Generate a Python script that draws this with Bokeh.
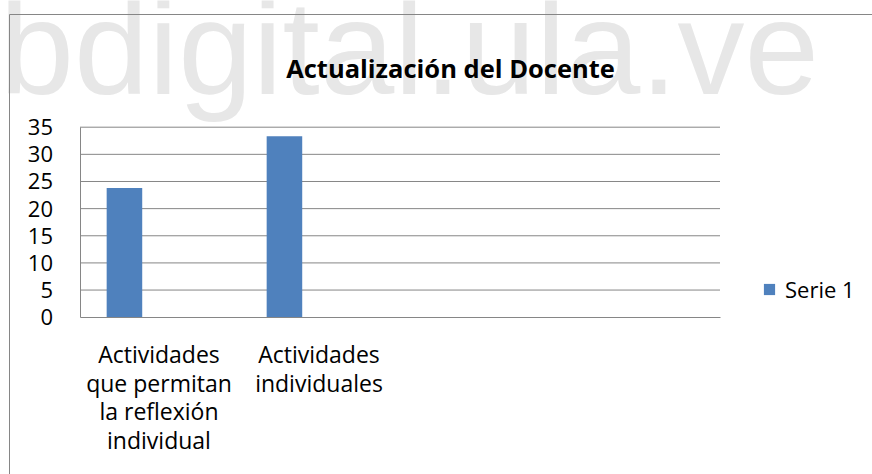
import math
from bokeh.plotting import figure
from bokeh.models import (Range1d, ColumnDataSource, LabelSet, LinearAxis,
                          BoxAnnotation, Legend, LegendItem, FixedTicker)
from bokeh.transform import dodge
from bokeh.embed import file_html
from bokeh.resources import INLINE
from bokeh.core.properties import value

# ---- data ----
categories = ["Actividades que permitan la reflexión individual",
              "Actividades individuales", "", ""]
category_lines = [["Actividades", "que permitan", "la reflexión", "individual"],
                  ["Actividades", "individuales"], [], []]
serie1 = [23.81, 33.33, None, None]
series_names = ["Serie 1"]
y_ticks = [0, 5, 10, 15, 20, 25, 30, 35]
title_text = "Actualización del Docente"
watermark_text = "bdigital.ula.ve"

# ---- styling ----
FONT = "Open Sans"
GRID = "#868686"
BLUE = "#4F81BD"
W, H = 872, 474
# pixel layout of the plot area inside the canvas
PX_L, PX_R, PX_T, PX_B = 79.5, 719.5, 126.7, 316.7
n_cat = len(categories)
y_max = y_ticks[-1]
sx = (PX_R - PX_L) / n_cat
sy = (PX_B - PX_T) / y_max

p = figure(width=W, height=H,
           x_range=Range1d(-PX_L / sx, n_cat + (W - PX_R) / sx),
           y_range=Range1d(-(H - PX_B) / sy, y_max + PX_T / sy),
           output_backend="svg", toolbar_location=None, tools="",
           x_axis_location=None, y_axis_location=None, title_location=None,
           min_border=0, min_border_left=0, min_border_right=0,
           min_border_top=0, min_border_bottom=0)
p.outline_line_color = None
p.background_fill_color = "white"
p.border_fill_color = "white"
p.xgrid.visible = False
p.ygrid.visible = False

# watermark (behind everything else)
wm_src = ColumnDataSource(dict(x=[-1], y=[H - 93], t=[watermark_text]))
p.add_layout(LabelSet(x="x", y="y", text="t", source=wm_src,
                      x_units="screen", y_units="screen",
                      text_font=value("Liberation Sans"),
                      text_font_size=value("134px"), text_color="#e7e7e7",
                      text_baseline="alphabetic", text_align="left",
                      level="underlay"))

# gridlines
grid_vals = [t for t in y_ticks if t > 0]
p.segment(x0=[0] * len(grid_vals), x1=[n_cat] * len(grid_vals),
          y0=grid_vals, y1=grid_vals, line_color=GRID, line_width=1)

# bars
bar_w = 1 / 4.5
src = ColumnDataSource(dict(xc=[i + 0.5 for i in range(n_cat)],
                            v=[math.nan if v is None else v for v in serie1]))
r = p.vbar(x=dodge("xc", -bar_w), top="v", width=bar_w,
           source=src, fill_color=BLUE, line_color=None)

# axes
yaxis = LinearAxis(fixed_location=0, bounds=(0, y_max),
                   ticker=FixedTicker(ticks=y_ticks))
yaxis.major_tick_out = 0
yaxis.major_tick_in = 0
yaxis.minor_tick_out = 0
yaxis.minor_tick_in = 0
yaxis.major_label_standoff = 27
yaxis.major_label_text_font = FONT
yaxis.major_label_text_font_size = "22px"
yaxis.major_label_text_color = "black"
yaxis.axis_line_color = GRID
p.add_layout(yaxis, "left")

xaxis = LinearAxis(fixed_location=0, bounds=(0, n_cat),
                   ticker=FixedTicker(ticks=[]))
xaxis.major_tick_out = 0
xaxis.major_tick_in = 0
xaxis.minor_tick_out = 0
xaxis.minor_tick_in = 0
xaxis.axis_line_color = GRID
p.add_layout(xaxis, "below")

# chart border
p.add_layout(BoxAnnotation(left=9, right=W + 200, top=H - 14, bottom=-200,
                           left_units="screen", right_units="screen",
                           top_units="screen", bottom_units="screen",
                           fill_alpha=0, line_color=GRID, line_alpha=1,
                           line_width=1))

# title
t_src = ColumnDataSource(dict(x=[450], y=[H - 77.7], t=[title_text]))
p.add_layout(LabelSet(x="x", y="y", text="t", source=t_src,
                      x_units="screen", y_units="screen",
                      text_font=value(FONT), text_font_style="bold",
                      text_font_size=value("25.5px"), text_color="black",
                      text_align="center", text_baseline="alphabetic"))

# category labels (wrapped)
lx, ly, lt, lo = [], [], [], []
for i, lines in enumerate(category_lines):
    for j, t in enumerate(lines):
        lx.append(i + 0.5); ly.append(0); lt.append(t); lo.append(-(45.5 + 28.8 * j))
lab_src = ColumnDataSource(dict(x=lx, y=ly, t=lt, o=lo))
p.add_layout(LabelSet(x="x", y="y", text="t", y_offset="o", x_offset=-1, source=lab_src,
                      text_font=value(FONT), text_font_size=value("23px"),
                      text_color="black", text_align="center",
                      text_baseline="alphabetic"))

# legend
legend = Legend(items=[LegendItem(label=series_names[0], renderers=[r])],
                location=(762, H - 304), glyph_width=14, glyph_height=14,
                label_standoff=9, padding=0, margin=0, spacing=0,
                label_height=14, border_line_color=None,
                background_fill_alpha=0,
                label_text_font=FONT, label_text_font_size="22px",
                label_text_color="black")
p.add_layout(legend)

open("out.html", "w").write(file_html(p, INLINE))
